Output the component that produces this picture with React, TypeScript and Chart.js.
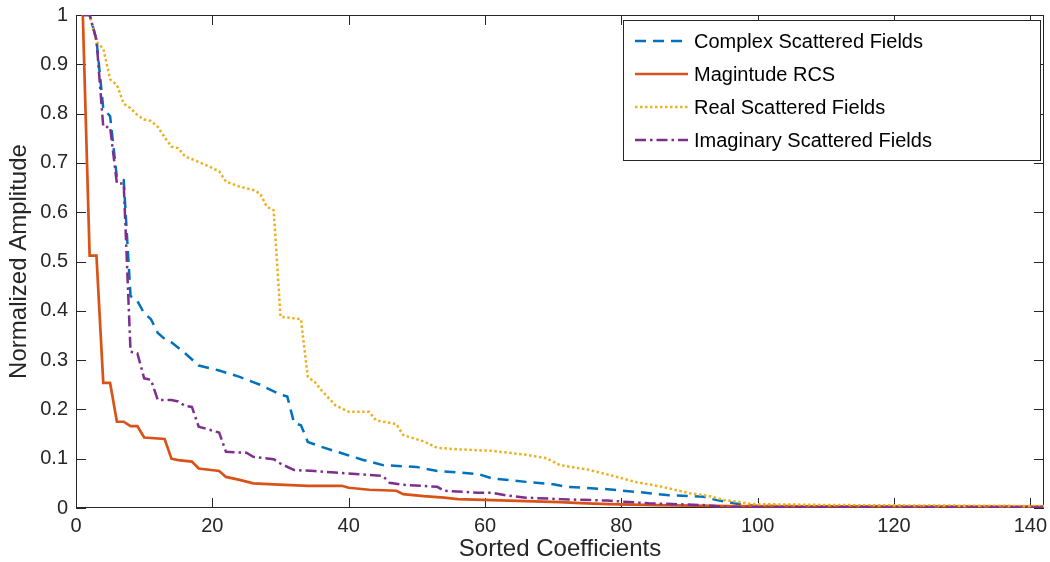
import React, { useEffect, useRef } from 'react';
import { Chart, registerables } from 'chart.js';

Chart.register(...registerables);

// ---- Data ----
const complexX = [1, 2, 3, 4, 5, 6, 7, 8, 9, 10, 11, 12, 13, 14, 15, 16, 18, 21, 24, 27, 30, 31, 32, 33, 34, 36, 39, 42, 45, 50, 53, 59, 61, 66, 70, 72, 78, 82, 87, 92, 94, 98, 100, 142];
const complexY = [1, 1, 0.95, 0.81, 0.795, 0.67, 0.665, 0.43, 0.42, 0.395, 0.383, 0.355, 0.343, 0.336, 0.325, 0.314, 0.289, 0.279, 0.266, 0.25, 0.23, 0.226, 0.172, 0.168, 0.134, 0.124, 0.111, 0.098, 0.087, 0.083, 0.075, 0.069, 0.06, 0.053, 0.048, 0.043, 0.038, 0.033, 0.026, 0.023, 0.016, 0.006, 0.004, 0.002];

const magnitudeX = [1, 2, 3, 4, 5, 6, 7, 8, 9, 10, 13, 14, 15, 17, 18, 21, 22, 24, 26, 29, 34, 39, 40, 43, 47, 48, 51, 54, 56, 61, 66, 71, 74, 78, 85, 96, 110, 142];
const magnitudeY = [1, 0.512, 0.512, 0.254, 0.254, 0.175, 0.175, 0.166, 0.166, 0.143, 0.14, 0.1, 0.097, 0.094, 0.08, 0.075, 0.063, 0.057, 0.05, 0.048, 0.045, 0.045, 0.041, 0.037, 0.035, 0.028, 0.024, 0.021, 0.018, 0.016, 0.014, 0.012, 0.01, 0.008, 0.006, 0.004, 0.0035, 0.003];

const realX = [1, 2, 3, 4, 5, 6, 7, 8, 9, 10, 11, 12, 13, 14, 15, 16, 18, 19, 21, 22, 24, 26, 27, 28, 29, 30, 33, 34, 35, 36, 38, 40, 43, 44, 47, 48, 51, 53, 56, 61, 66, 69, 71, 75, 78, 82, 86, 90, 93, 95, 97, 99, 111, 142];
const realY = [1, 1, 0.945, 0.932, 0.87, 0.858, 0.82, 0.811, 0.797, 0.788, 0.785, 0.773, 0.752, 0.733, 0.73, 0.713, 0.702, 0.696, 0.683, 0.662, 0.652, 0.645, 0.638, 0.611, 0.604, 0.388, 0.383, 0.266, 0.256, 0.239, 0.209, 0.195, 0.195, 0.178, 0.17, 0.148, 0.135, 0.122, 0.119, 0.116, 0.108, 0.101, 0.087, 0.078, 0.068, 0.053, 0.043, 0.03, 0.024, 0.016, 0.013, 0.008, 0.006, 0.004];

const imaginaryX = [1, 2, 3, 4, 5, 6, 7, 8, 9, 10, 11, 12, 14, 15, 16, 17, 18, 21, 22, 25, 26, 29, 30, 32, 35, 38, 41, 43, 45, 46, 48, 53, 54, 59, 61, 63, 66, 71, 78, 84, 92, 96, 142];
const imaginaryY = [1, 1, 0.95, 0.773, 0.773, 0.658, 0.658, 0.317, 0.314, 0.263, 0.26, 0.219, 0.219, 0.216, 0.207, 0.205, 0.165, 0.153, 0.114, 0.112, 0.104, 0.099, 0.09, 0.077, 0.075, 0.072, 0.069, 0.067, 0.065, 0.051, 0.047, 0.043, 0.035, 0.031, 0.031, 0.026, 0.021, 0.018, 0.015, 0.0095, 0.006, 0.0015, 0.001];

const seriesLabels = ['Complex Scattered Fields', 'Magintude RCS', 'Real Scattered Fields', 'Imaginary Scattered Fields'];
const xTicks = [0, 20, 40, 60, 80, 100, 120, 140];
const yTicks = [0, 0.1, 0.2, 0.3, 0.4, 0.5, 0.6, 0.7, 0.8, 0.9, 1];

const FONT = '"Liberation Sans", Arial, Helvetica, sans-serif';
const AXIS_COLOR = '#262626';

const toPoints = (xs: number[], ys: number[]) => xs.map((x, i) => ({ x, y: ys[i] }));

const zeroPadding = (scale: any) => {
  scale.paddingLeft = 0;
  scale.paddingRight = 0;
  scale.paddingTop = 0;
  scale.paddingBottom = 0;
};

const framePlugin = {
  id: 'matlabFrame',
  beforeDatasetsDraw(chart: any) {
    const { ctx, chartArea: a, scales } = chart;
    ctx.save();
    ctx.strokeStyle = AXIS_COLOR;
    ctx.lineWidth = 1;
    ctx.beginPath();
    const tl = 10;
    for (const v of xTicks) {
      const px = Math.round(scales.x.getPixelForValue(v)) + 0.5;
      ctx.moveTo(px, a.bottom);
      ctx.lineTo(px, a.bottom - tl);
      ctx.moveTo(px, a.top);
      ctx.lineTo(px, a.top + tl);
    }
    for (const v of yTicks) {
      const py = Math.round(scales.y.getPixelForValue(v)) + 0.5;
      ctx.moveTo(a.left, py);
      ctx.lineTo(a.left + tl, py);
      ctx.moveTo(a.right, py);
      ctx.lineTo(a.right - tl, py);
    }
    ctx.stroke();
    ctx.strokeRect(Math.round(a.left) + 0.5, Math.round(a.top) + 0.5, Math.round(a.right - a.left) - 1, Math.round(a.bottom - a.top) - 1);
    ctx.restore();
  },
};

const legendPlugin = {
  id: 'insideLegend',
  afterDraw(chart: any) {
    const { ctx, chartArea: a } = chart;
    const boxRight = a.right - 4;
    const boxLeft = boxRight - 417;
    const boxTop = a.top + 5;
    const boxH = 140;
    ctx.save();
    ctx.fillStyle = '#ffffff';
    ctx.fillRect(boxLeft, boxTop, boxRight - boxLeft, boxH);
    ctx.strokeStyle = AXIS_COLOR;
    ctx.lineWidth = 1;
    ctx.strokeRect(Math.round(boxLeft) + 0.5, Math.round(boxTop) + 0.5, Math.round(boxRight - boxLeft), boxH);
    ctx.font = `20px ${FONT}`;
    ctx.textBaseline = 'middle';
    ctx.textAlign = 'left';
    chart.data.datasets.forEach((ds: any, i: number) => {
      const y = boxTop + 21 + i * 33;
      ctx.save();
      ctx.strokeStyle = ds.borderColor;
      ctx.lineWidth = ds.borderWidth;
      ctx.setLineDash(ds.borderDash || []);
      ctx.beginPath();
      ctx.moveTo(boxLeft + 12, y);
      ctx.lineTo(boxLeft + 65, y);
      ctx.stroke();
      ctx.restore();
      ctx.fillStyle = '#000000';
      ctx.fillText(ds.label, boxLeft + 71, y + 1);
    });
    ctx.restore();
  },
};

export default function App() {
  const ref = useRef<HTMLCanvasElement>(null);

  useEffect(() => {
    document.body.style.margin = '0';
    const canvas = ref.current;
    if (!canvas) return;
    const chart = new Chart(canvas, {
      type: 'line',
      data: {
        datasets: [
          {
            label: seriesLabels[0],
            data: toPoints(complexX, complexY),
            borderColor: '#0072BD',
            borderWidth: 2.5,
            borderDash: [11, 7],
            order: 4,
          },
          {
            label: seriesLabels[1],
            data: toPoints(magnitudeX, magnitudeY),
            borderColor: '#D95319',
            borderWidth: 2.7,
            borderDash: [],
            order: 3,
          },
          {
            label: seriesLabels[2],
            data: toPoints(realX, realY),
            borderColor: '#EDB120',
            borderWidth: 2.5,
            borderDash: [2.5, 2.5],
            order: 2,
          },
          {
            label: seriesLabels[3],
            data: toPoints(imaginaryX, imaginaryY),
            borderColor: '#7E2F8E',
            borderWidth: 2.5,
            borderDash: [11, 4, 2.5, 4],
            order: 1,
          },
        ] as any,
      },
      options: {
        responsive: false,
        animation: false,
        devicePixelRatio: 1,
        layout: { padding: { top: 15, right: 6, left: 0, bottom: 0 } },
        elements: {
          point: { radius: 0, hoverRadius: 0 },
          line: { tension: 0, fill: false },
        },
        plugins: {
          legend: { display: false },
          tooltip: { enabled: false },
        },
        scales: {
          x: {
            type: 'linear',
            min: 0,
            max: 142,
            afterBuildTicks: (axis: any) => {
              axis.ticks = xTicks.map((v) => ({ value: v }));
            },
            afterFit: (scale: any) => {
              scale.height = 54;
              zeroPadding(scale);
            },
            ticks: {
              font: { size: 20, family: FONT },
              color: AXIS_COLOR,
              padding: 6,
              maxRotation: 0,
              autoSkip: false,
              callback: (v: any) => String(v),
            },
            grid: { display: false, drawTicks: false },
            border: { display: false },
            title: {
              display: true,
              text: 'Sorted Coefficients',
              font: { size: 24, family: FONT },
              color: AXIS_COLOR,
              padding: { top: 0, bottom: -2 },
            },
          },
          y: {
            type: 'linear',
            min: 0,
            max: 1,
            afterBuildTicks: (axis: any) => {
              axis.ticks = yTicks.map((v) => ({ value: v }));
            },
            afterFit: (scale: any) => {
              scale.width = 76;
              zeroPadding(scale);
            },
            ticks: {
              font: { size: 20, family: FONT },
              color: AXIS_COLOR,
              padding: 8,
              autoSkip: false,
              callback: (v: any) => String(Math.round(Number(v) * 10) / 10),
            },
            grid: { display: false, drawTicks: false },
            border: { display: false },
            title: {
              display: true,
              text: 'Normalized Amplitude',
              font: { size: 24, family: FONT },
              color: AXIS_COLOR,
              padding: { top: 5, bottom: 0 },
            },
          },
        },
      } as any,
      plugins: [framePlugin, legendPlugin],
    });
    return () => chart.destroy();
  }, []);

  return (
    <div style={{ width: 1050, height: 562 }}>
      <canvas ref={ref} width={1050} height={562} style={{ display: 'block' }} />
    </div>
  );
}
